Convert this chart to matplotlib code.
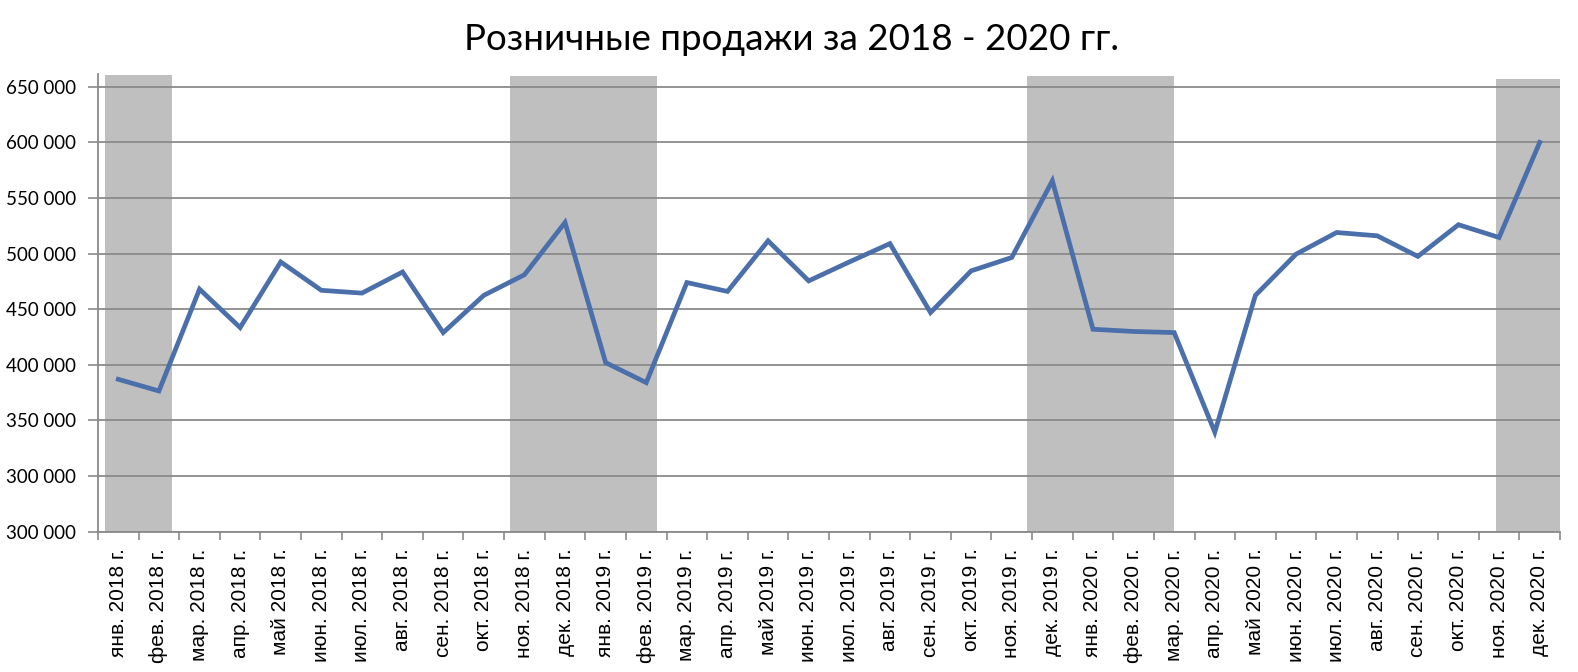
import numpy as np
import matplotlib
matplotlib.use("Agg")
import matplotlib.pyplot as plt

# month labels and retail sales values
months = ["янв.", "фев.", "мар.", "апр.", "май", "июн.",
          "июл.", "авг.", "сен.", "окт.", "ноя.", "дек."]
years = [2018, 2019, 2020]
labels = [f"{m} {y} г." for y in years for m in months]

sales = [387000, 376500, 468000, 433500, 492500, 467000,
         464500, 483500, 429000, 462500, 481000, 528000,
         402000, 384000, 474000, 466000, 511500, 475500,
         492500, 509000, 447000, 484500, 496500, 565500,
         432000, 430000, 429000, 339500, 462500, 499500,
         519000, 516000, 497500, 526000, 514500, 600000]

# grey winter bands: start, end (in category units), top value
band_start = [0.17, 10.15, 22.88, 34.42]
band_end = [1.81, 13.76, 26.49, 36.0]
band_top = [660500, 659600, 659600, 657000]

y_ticks = [250000, 300000, 350000, 400000, 450000, 500000, 550000, 600000, 650000]
y_labels = ["300 000", "300 000", "350 000", "400 000", "450 000",
            "500 000", "550 000", "600 000", "650 000"]

fig = plt.figure(figsize=(15.78, 6.72), dpi=100)
ax = fig.add_axes([98 / 1578, (672 - 531.67) / 672, (1560 - 98) / 1578, (531.67 - 74) / 672])

y0 = 250000
starts = np.array(band_start)
widths = np.array(band_end) - starts
heights = np.array(band_top) - y0
ax.bar(starts, heights, width=widths, bottom=y0, align="edge",
       color="#bfbfbf", zorder=1, linewidth=0)

x = np.arange(len(sales)) + 0.5
ax.plot(x, sales, color="#4a6fab", lw=3.4, zorder=4, solid_joinstyle="miter")

ax.set_xlim(0, 36)
ax.set_ylim(y0, 661500)

ax.set_yticks(y_ticks)
ax.set_yticklabels(y_labels, family=["Lato", "DejaVu Sans"], fontsize=13.5)
ax.yaxis.grid(True, color="#8a8a8a", lw=1.3, zorder=2)
ax.set_axisbelow(False)

ax.set_xticks(np.arange(37))
ax.set_xticklabels([])
ax.set_xticks(x, minor=True)
ax.set_xticklabels(labels, minor=True, rotation=90,
                   family=["Liberation Sans", "DejaVu Sans"], fontsize=15)
ax.tick_params(axis="x", which="minor", length=0, pad=12)
ax.tick_params(axis="x", which="major", length=6, width=1.2, color="#8a8a8a")
ax.tick_params(axis="y", length=7.5, width=1.2, color="#8a8a8a", pad=8)

for s in ["top", "right"]:
    ax.spines[s].set_visible(False)
for s in ["left", "bottom"]:
    ax.spines[s].set_color("#8a8a8a")
    ax.spines[s].set_linewidth(1.3)
    ax.spines[s].set_zorder(3)

fig.text(0.5016, (672 - 50) / 672, "Розничные продажи за 2018 - 2020 гг.",
         ha="center", va="baseline", fontsize=26.5, family=["Lato", "DejaVu Sans"])

fig.savefig("out.png", dpi=100)
